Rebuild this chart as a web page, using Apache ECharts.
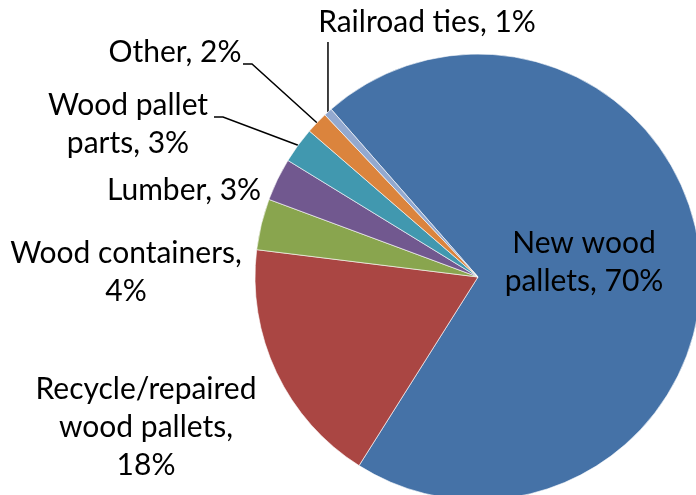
<!DOCTYPE html>
<html>
<head>
<meta charset="utf-8">
<script src="https://cdn.jsdelivr.net/npm/echarts@6/dist/echarts.min.js"></script>
<style>
  html, body { margin: 0; padding: 0; background: #fff; }
  #main { width: 696px; height: 495px; }
</style>
</head>
<body>
<div id="main"></div>
<script>
// slice order runs clockwise, starting at the top-left edge of the big slice
const categories = ['New wood\npallets', 'Recycle/repaired\nwood pallets', 'Wood containers', 'Lumber', 'Wood pallet\nparts', 'Other', 'Railroad ties'];
const shares = [70.4, 18.0, 3.7, 3.1, 2.6, 1.6, 0.6];
const sliceColors = ['#4572A7', '#AA4643', '#89A54E', '#71588F', '#4198AF', '#DB843D', '#93A9CF'];

// where each label sits, and how its leader line bends
const labelSpots = [
    {x: 584, y: 262, inside: true},
    {x: 146, y: 427, wrap: true},
    {x: 126, y: 272, wrap: true},
    {x: 184, y: 190},
    {x: 128, y: 124, guide: p => [p, [223, 117], [214, 117]]},
    {x: 175, y: 52, guide: p => [p, [252, 64], [243, 64]]},
    {x: 427, y: 22, guide: p => [p, [p[0], 42]]}
];

var myChart = echarts.init(document.getElementById('main'));

const data = categories.map(function (name, i) {
    const spot = labelSpots[i];
    return {
        name: name,
        value: shares[i],
        itemStyle: {color: sliceColors[i]},
        label: {position: spot.inside ? 'inside' : 'outside'},
        labelLine: {show: !!spot.guide}
    };
});

let option = {
    animation: false,
    series: [
        {
            type: 'pie',
            center: [478, 277],
            radius: 223,
            startAngle: 131.2,
            clockwise: true,
            avoidLabelOverlap: false,
            data: data,
            itemStyle: {
                borderColor: 'rgba(255,255,255,0.6)',
                borderWidth: 1
            },
            label: {
                color: '#000',
                fontFamily: 'Lato',
                fontSize: 30,
                lineHeight: 38,
                align: 'center',
                formatter: function (p) {
                    const sep = labelSpots[p.dataIndex].wrap ? ',\n' : ', ';
                    return p.name + sep + Math.round(p.value) + '%';
                }
            },
            labelLine: {
                lineStyle: {color: '#000', width: 1.5}
            },
            labelLayout: function (params) {
                const spot = labelSpots[params.dataIndex];
                const out = {x: spot.x, y: spot.y, align: 'center', verticalAlign: 'middle'};
                if (spot.guide && params.labelLinePoints) {
                    out.labelLinePoints = spot.guide(params.labelLinePoints[0]);
                }
                return out;
            }
        }
    ]
};

myChart.setOption(option);
</script>
</body>
</html>
